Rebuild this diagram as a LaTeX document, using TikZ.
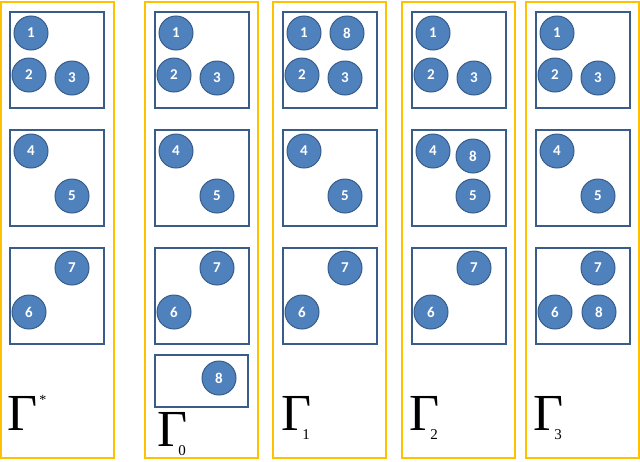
\documentclass[tikz,border=0pt]{standalone}
\usepackage{fontspec}
\setmainfont{Liberation Serif}
\newfontfamily\carlfont{Carlito}
\definecolor{cfill}{HTML}{4F81BD}
\definecolor{cline}{HTML}{385D8A}
\definecolor{ybox}{HTML}{FFC000}
\begin{document}
\begin{tikzpicture}[x=1pt,y=-1pt,
  col/.style={draw=ybox,line width=1.5pt},
  grp/.style={draw=cline,line width=1.2pt},
  ball/.style={circle,fill=cfill,draw=cline,line width=1pt,minimum size=34pt,inner sep=0pt,text=white,font=\carlfont\bfseries\fontsize{15}{15}\selectfont},
  glab/.style={anchor=base west,inner sep=0pt,font=\fontsize{52}{52}\selectfont}]
\useasboundingbox (0,0) rectangle (640,461);
\foreach \cx/\bx [count=\i] in {1/10,145/155,273/283,402/412,526/536}{
  \draw[col] (\cx,2) rectangle (\cx+113,458);
  \draw[grp] (\bx,12) rectangle (\bx+94,108);
  \draw[grp] (\bx,130) rectangle (\bx+94,226);
  \draw[grp] (\bx,248) rectangle (\bx+94,344);
  \node[ball] (a1\i) at (\bx+21,33) {1};
  \node[ball] (a2\i) at (\bx+19,75) {2};
  \node[ball] (a3\i) at (\bx+62,78) {3};
  \node[ball] (a4\i) at (\bx+21,151) {4};
  \node[ball] (a6\i) at (\bx+19,312) {6};
  \node[ball] (a7\i) at (\bx+62,268) {7};
}
\foreach \bx [count=\i] in {10,155,283}{\node[ball] (a5\i) at (\bx+62,196) {5};}
\node[ball] (a54) at (473,196) {5};
\node[ball] (a55) at (598,196) {5};
\node[ball] (b83) at (347,33) {8};
\node[ball] (b84) at (473,156) {8};
\node[ball] (b85) at (599,312) {8};
\draw[grp] (155,355) rectangle (248,407);
\node[ball] (b82) at (219,378) {8};
\node[glab] (g0) at (7,430) {Γ\kern2pt\raisebox{26pt}{\fontsize{14}{14}\selectfont*}};
\node[glab] (g1) at (157,446) {Γ\kern-9pt\raisebox{-9pt}{\fontsize{15}{15}\selectfont 0}};
\node[glab] (g2) at (281,430) {Γ\kern-9pt\raisebox{-9pt}{\fontsize{15}{15}\selectfont 1}};
\node[glab] (g3) at (409,430) {Γ\kern-9pt\raisebox{-9pt}{\fontsize{15}{15}\selectfont 2}};
\node[glab] (g4) at (533,430) {Γ\kern-9pt\raisebox{-9pt}{\fontsize{15}{15}\selectfont 3}};
\end{tikzpicture}
\end{document}
